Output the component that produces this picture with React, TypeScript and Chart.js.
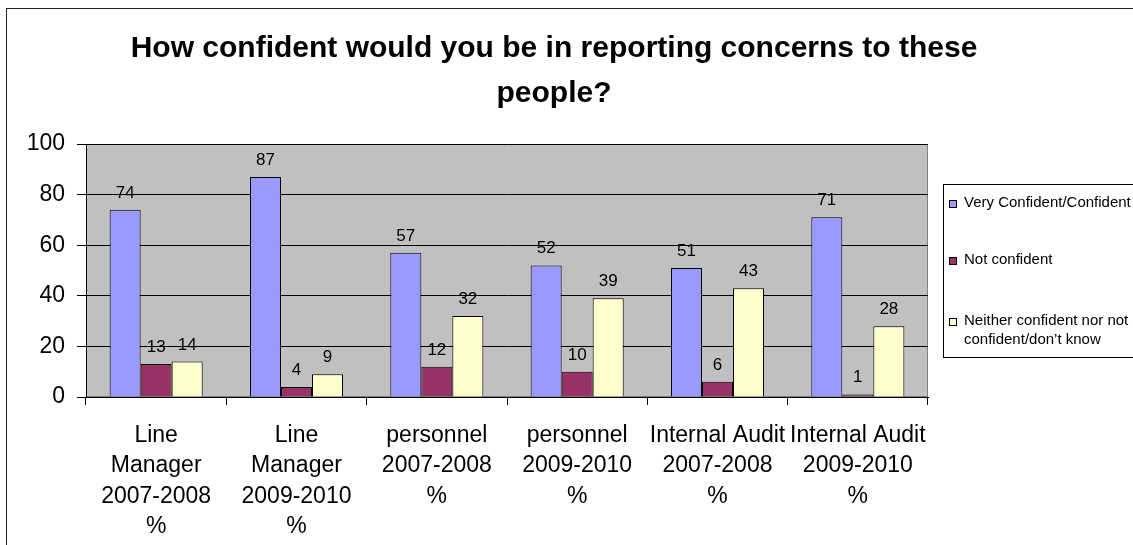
import React, { useEffect, useRef } from "react";
import { Chart, registerables } from "chart.js";
Chart.register(...registerables);

const categories: string[][] = [
  ["Line", "Manager", "2007-2008", "%"],
  ["Line", "Manager", "2009-2010", "%"],
  ["personnel", "2007-2008", "%"],
  ["personnel", "2009-2010", "%"],
  ["Internal Audit", "2007-2008", "%"],
  ["Internal Audit", "2009-2010", "%"],
];
const veryConfident = [74, 87, 57, 52, 51, 71];
const notConfident = [13, 4, 12, 10, 6, 1];
const neither = [14, 9, 32, 39, 43, 28];
const seriesNames = [
  "Very Confident/Confident",
  "Not confident",
  "Neither confident nor not confident/don\u2019t know",
];
const legendLines: string[][] = [
  ["Very Confident/Confident"],
  ["Not confident"],
  ["Neither confident nor not", "confident/don\u2019t know"],
];
const seriesColors = ["#9999FF", "#993366", "#FFFFCC"];
const titleLines = [
  "How confident would you be in reporting concerns to these",
  "people?",
];
const yMin = 0;
const yMax = 100;
const yStep = 20;

const FONT = "'Liberation Sans', Arial, sans-serif";

const decor = {
  id: "decor",
  beforeDraw(chart: any) {
    const { ctx, chartArea: a } = chart;
    ctx.save();
    ctx.fillStyle = "#ffffff";
    ctx.fillRect(0, 0, chart.width, chart.height);
    ctx.strokeStyle = "#222";
    ctx.lineWidth = 1;
    ctx.strokeRect(6.5, 8.5, 1300, 700);
    ctx.fillStyle = "#C0C0C0";
    ctx.fillRect(a.left, a.top, a.right - a.left, a.bottom - a.top);
    ctx.strokeStyle = "#808080";
    ctx.strokeRect(a.left + 0.5, a.top + 0.5, a.right - a.left - 1, a.bottom - a.top - 1);
    ctx.restore();
  },
  afterDatasetsDraw(chart: any) {
    const { ctx } = chart;
    ctx.save();
    ctx.fillStyle = "#000";
    ctx.font = `17px ${FONT}`;
    ctx.textAlign = "center";
    ctx.textBaseline = "alphabetic";
    chart.data.datasets.forEach((ds: any, i: number) => {
      const meta = chart.getDatasetMeta(i);
      meta.data.forEach((el: any, j: number) => {
        ctx.fillText(String(ds.data[j]), el.x, el.y - 12);
      });
    });
    ctx.restore();
  },
  afterDraw(chart: any) {
    const { ctx } = chart;
    ctx.save();
    // title
    ctx.fillStyle = "#000";
    ctx.font = `bold 30px ${FONT}`;
    ctx.textAlign = "center";
    ctx.textBaseline = "middle";
    titleLines.forEach((t, i) => ctx.fillText(t, 554, 49 + i * 45));
    // legend
    ctx.strokeStyle = "#000";
    ctx.lineWidth = 1;
    ctx.strokeRect(943.5, 184.5, 300, 173);
    ctx.font = `15px ${FONT}`;
    ctx.textAlign = "left";
    const rowY = [203, 260, 321];
    legendLines.forEach((lines, i) => {
      const y = rowY[i];
      ctx.fillStyle = seriesColors[i];
      ctx.fillRect(949, y - 3, 8, 8);
      ctx.strokeStyle = "#000";
      ctx.strokeRect(949.5, y - 2.5, 7, 7);
      ctx.fillStyle = "#000";
      lines.forEach((l, k) => ctx.fillText(l, 964, y + k * 19));
    });
    ctx.restore();
  },
};

export default function App() {
  const ref = useRef<HTMLCanvasElement>(null);
  useEffect(() => {
    if (!ref.current) return;
    const mk = (i: number, data: number[]) => ({
      label: seriesNames[i],
      data,
      backgroundColor: seriesColors[i],
      borderColor: "#000",
      borderWidth: 1,
      categoryPercentage: 0.663,
      barPercentage: 1,
    });
    const chart = new Chart(ref.current, {
      type: "bar",
      data: {
        labels: categories,
        datasets: [mk(0, veryConfident), mk(1, notConfident), mk(2, neither)],
      },
      options: {
        responsive: false,
        devicePixelRatio: 1,
        animation: false,
        layout: { padding: { top: 144, left: 0, right: 205, bottom: 0 } },
        plugins: {
          legend: { display: false },
          title: { display: false },
          tooltip: { enabled: false },
        },
        scales: {
          x: {
            grid: {
              display: true,
              drawOnChartArea: false,
              drawTicks: true,
              tickLength: 8,
              color: "#000",
              offset: true,
            },
            border: { color: "#000" },
            ticks: {
              color: "#000",
              font: { family: FONT, size: 23, lineHeight: 1.33 },
              maxRotation: 0,
              minRotation: 0,
              autoSkip: false,
              padding: 15,
            },
            afterFit(s: any) {
              s.height = 148;
            },
          },
          y: {
            min: yMin,
            max: yMax,
            ticks: {
              stepSize: yStep,
              color: "#000",
              font: { family: FONT, size: 23 },
              padding: 12,
            },
            grid: { color: "#000", tickLength: 9, drawTicks: true },
            border: { color: "#000" },
            afterFit(s: any) {
              s.width = 86;
            },
          },
        },
      },
      plugins: [decor],
    } as any);
    return () => chart.destroy();
  }, []);
  return (
    <div style={{ position: "absolute", left: 0, top: 0, width: 1133, height: 545 }}>
      <canvas ref={ref} width={1133} height={545} style={{ display: "block" }} />
    </div>
  );
}
